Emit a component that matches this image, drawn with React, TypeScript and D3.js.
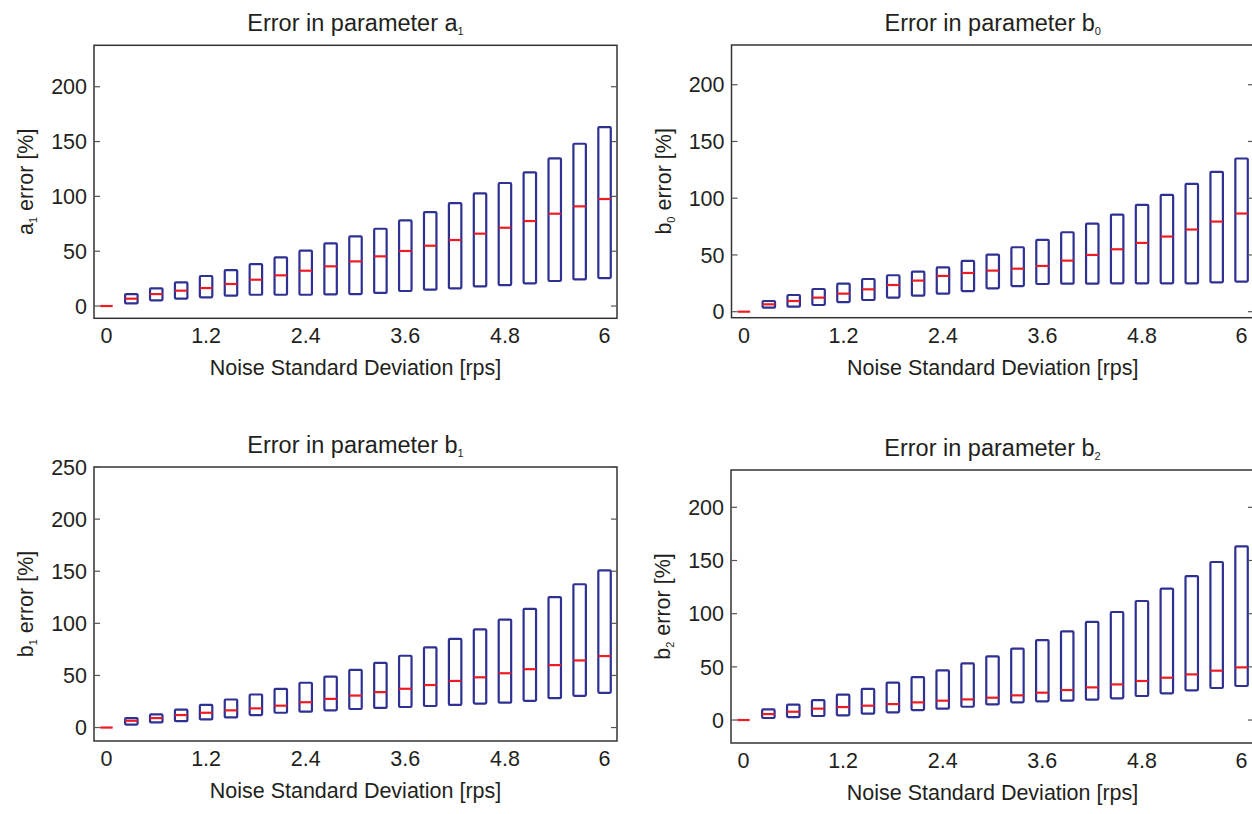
import React from "react";
import * as d3 from "d3";

// noise standard deviation levels (categories)
const noiseLevels = ["0","0.3","0.6","0.9","1.2","1.5","1.8","2.1","2.4","2.7","3","3.3","3.6","3.9","4.2","4.5","4.8","5.1","5.4","5.7","6"];
const xTickLabels = ["0","1.2","2.4","3.6","4.8","6"];
const xTickIdx = [0,4,8,12,16,20];

// a1 error [%]
const a1Q1 = [0,2.4,5.2,6.7,7.9,9.4,10.3,10.3,10.3,10.6,10.9,11.9,13.7,14.9,16.1,17.9,19.1,20.7,22.8,24.3,25.5];
const a1Med = [0,6.7,10.9,14.0,16.4,20.1,24.0,28.0,32.2,36.2,40.7,45.3,50.2,55.0,60.2,66.0,71.4,77.5,84.2,90.9,97.6];
const a1Q3 = [0,10.9,16.1,21.6,27.4,32.8,38.3,44.4,50.5,57.1,63.5,70.5,78.1,85.7,93.9,102.7,112.2,121.9,134.7,148.0,163.2];

// b0 error [%]
const b0Q1 = [0,3.5,4.4,5.9,8.5,10.3,12.4,14.1,15.9,18.2,20.6,22.6,24.4,24.7,24.7,25.0,25.0,25.0,25.0,25.9,26.5];
const b0Med = [0,6.5,9.4,12.4,15.9,19.7,23.5,27.4,31.5,34.1,36.2,37.9,40.3,45.0,50.0,55.0,60.6,66.2,72.4,79.4,86.5];
const b0Q3 = [0,9.4,14.7,20.0,24.7,28.8,32.1,35.3,39.1,44.7,50.3,56.8,63.2,70.0,77.6,85.6,94.1,102.9,112.6,123.2,135.0];

// b1 error [%]
const b1Q1 = [0,2.9,4.9,6.1,7.8,9.7,12.0,14.2,15.2,16.5,17.8,18.8,19.7,20.7,21.7,23.0,23.9,25.6,28.2,30.4,33.3];
const b1Med = [0,6.5,9.1,12.0,14.2,16.5,18.4,21.0,24.3,27.5,30.7,34.0,37.2,40.8,44.7,48.2,52.1,56.0,59.9,64.4,68.6];
const b1Q3 = [0,9.1,12.6,17.2,21.7,26.9,31.7,37.2,43.0,48.9,55.3,62.1,68.9,77.0,85.1,94.2,103.6,113.9,125.2,137.5,150.8];

// b2 error [%]
const b2Q1 = [0,1.9,2.8,3.8,4.4,6.0,7.2,9.4,10.7,12.5,14.7,16.6,17.6,18.2,19.1,20.4,22.6,25.1,27.9,30.1,32.0];
const b2Med = [0,5.6,7.8,10.7,12.2,13.5,15.0,16.6,18.2,19.4,21.0,23.2,25.7,28.2,30.7,33.5,36.7,39.8,42.9,46.4,49.5];
const b2Q3 = [0,10.0,14.4,18.8,23.8,29.2,35.1,40.4,46.7,53.3,59.9,67.1,75.2,83.4,92.2,101.6,111.9,123.5,135.4,148.6,163.3];

const BOX = "#2e3192";
const MED = "#ed1c24";
const FONT = "'Liberation Sans', Arial, Helvetica, sans-serif";
const FS = 21.5;

type PanelProps = {
  name: string; sub: string;
  q1: number[]; med: number[]; q3: number[];
  left: number; right: number; top: number; bottom: number;
  yDomain: [number, number]; yTicks: number[];
};

function Panel(p: PanelProps) {
  const x = d3.scaleLinear().domain([-0.5, noiseLevels.length - 0.5]).range([p.left, p.right]);
  const y = d3.scaleLinear().domain(p.yDomain).range([p.bottom, p.top]);
  const hw = 0.25;
  const cx = (p.left + p.right) / 2;
  const cy = (p.top + p.bottom) / 2;
  return (
    <g fontFamily={FONT} fill="#231f20">
      <text x={cx} y={p.top - 14} textAnchor="middle" fontSize={23.5}>
        Error in parameter {p.name}<tspan fontSize={11} dy={4}>{p.sub}</tspan>
      </text>
      {noiseLevels.map((lv, i) => {
        const x0 = x(i - hw), x1 = x(i + hw);
        const yt = y(p.q3[i]), yb = y(p.q1[i]);
        return (
          <g key={lv}>
            <rect x={x0} y={yt} width={x1 - x0} height={Math.max(0, yb - yt)} fill="none" stroke={BOX} strokeWidth={2.2} rx={1} />
            <line x1={x0} x2={x1} y1={y(p.med[i])} y2={y(p.med[i])} stroke={MED} strokeWidth={2.2} />
          </g>
        );
      })}
      <rect x={p.left} y={p.top} width={p.right - p.left} height={p.bottom - p.top} fill="none" stroke="#333" strokeWidth={1.5} />
      {p.yTicks.map((t) => (
        <g key={t}>
          <line x1={p.left} x2={p.left + 6} y1={y(t)} y2={y(t)} stroke="#555" strokeWidth={1.2} />
          <line x1={p.right} x2={p.right - 6} y1={y(t)} y2={y(t)} stroke="#555" strokeWidth={1.2} />
          <text x={p.left - 7} y={y(t)} dy="0.36em" textAnchor="end" fontSize={FS}>{t}</text>
        </g>
      ))}
      {xTickIdx.map((ix, k) => (
        <text key={ix} x={x(ix)} y={p.bottom + 25} textAnchor="middle" fontSize={FS}>{xTickLabels[k]}</text>
      ))}
      <text x={cx} y={p.bottom + 57} textAnchor="middle" fontSize={FS}>Noise Standard Deviation [rps]</text>
      <text transform={`translate(${p.left - 61},${cy}) rotate(-90)`} textAnchor="middle" fontSize={FS}>
        {p.name}<tspan fontSize={11} dy={4}>{p.sub}</tspan><tspan dy={-4}> error [%]</tspan>
      </text>
    </g>
  );
}

export default function App() {
  return (
    <svg width={1252} height={814} style={{ position: "absolute", left: 0, top: 0, background: "#fff" }}>
      <Panel name="a" sub="1" q1={a1Q1} med={a1Med} q3={a1Q3} left={94} right={617} top={45.3} bottom={318.3} yDomain={[-11.2, 237.8]} yTicks={[0,50,100,150,200]} />
      <Panel name="b" sub="0" q1={b0Q1} med={b0Med} q3={b0Q3} left={731.5} right={1254} top={45} bottom={317.7} yDomain={[-5.3, 235]} yTicks={[0,50,100,150,200]} />
      <Panel name="b" sub="1" q1={b1Q1} med={b1Med} q3={b1Q3} left={94} right={617} top={467} bottom={741} yDomain={[-12.9, 250]} yTicks={[0,50,100,150,200,250]} />
      <Panel name="b" sub="2" q1={b2Q1} med={b2Med} q3={b2Q3} left={731} right={1254} top={470} bottom={743} yDomain={[-21.6, 235.1]} yTicks={[0,50,100,150,200]} />
    </svg>
  );
}
